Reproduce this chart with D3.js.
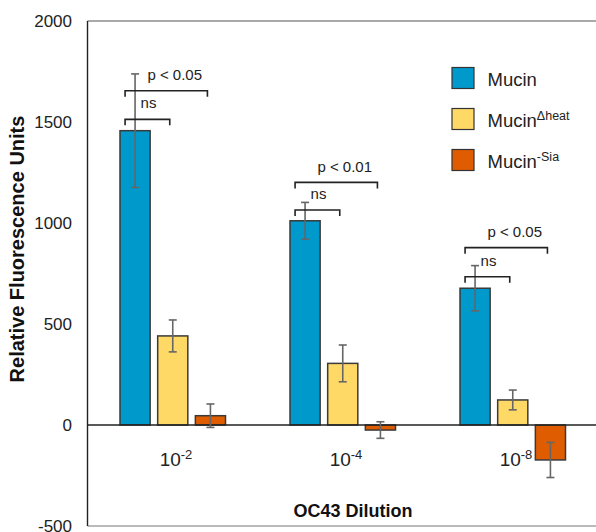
<!DOCTYPE html>
<html><head><meta charset="utf-8">
<script src="https://cdn.jsdelivr.net/npm/d3@7"></script>
<style>
html,body{margin:0;padding:0;background:#fff;}
text{font-family:Arial,"Liberation Sans",sans-serif;}
</style></head>
<body><svg id="chart" width="596" height="532"></svg>
<script>
// ---- data ----
const groups = ["10-2", "10-4", "10-8"];
const groupBase = ["10", "10", "10"];
const groupExp = ["-2", "-4", "-8"];
const series = ["Mucin", "MucinHeat", "MucinSia"];
const seriesBase = ["Mucin", "Mucin", "Mucin"];
const seriesSup = ["", "\u0394heat", "-Sia"];
const mucin      = [1457, 1011, 677];
const mucinHeat  = [441, 305, 124];
const mucinSia   = [46, -25, -173];
const errMucin   = [281, 91, 112];
const errHeat    = [79, 91, 49];
const errSia     = [58, 41, 87];
const yTicks = [-500, 0, 500, 1000, 1500, 2000];
// significance brackets: [group, target series index, level, label]
const bracketGroup  = [0, 0, 1, 1, 2, 2];
const bracketTarget = [1, 2, 1, 2, 1, 2];
const bracketLevel  = [1513, 1655, 1064, 1201, 734, 878];
const bracketLabel  = ["ns", "p < 0.05", "ns", "p < 0.01", "ns", "p < 0.05"];

const colors = ["#0099CC", "#FFD966", "#E05C00"];
const values = [mucin, mucinHeat, mucinSia];
const errs = [errMucin, errHeat, errSia];

const svg = d3.select("#chart");
const y = d3.scaleLinear().domain([-500, 2000]).range([526, 21]);
const x0 = d3.scaleBand().domain(groups).range([88, 598]).padding(0);
const x1 = d3.scaleBand().domain(series).range([32, 137.5]).paddingInner(0.2).paddingOuter(0);

// frame lines
svg.append("line").attr("x1", 87.5).attr("x2", 596).attr("y1", y(2000)).attr("y2", y(2000))
  .attr("stroke", "#555").attr("stroke-width", 1.2);
svg.append("line").attr("x1", 87.5).attr("x2", 596).attr("y1", y(-500)).attr("y2", y(-500))
  .attr("stroke", "#777").attr("stroke-width", 1.2);

// y axis labels
svg.append("g").selectAll("text").data(yTicks).join("text")
  .attr("x", 72).attr("y", d => y(d)).attr("dy", "0.36em")
  .attr("text-anchor", "end").attr("font-size", 17).attr("fill", "#222")
  .text(d => d);

// bars
const data = [];
groups.forEach((g, gi) => series.forEach((s, si) => data.push({g, gi, s, si, v: values[si][gi], e: errs[si][gi]})));

svg.append("g").selectAll("rect").data(data).join("rect")
  .attr("x", d => x0(d.g) + x1(d.s))
  .attr("y", d => y(Math.max(0, d.v)))
  .attr("width", x1.bandwidth())
  .attr("height", d => Math.abs(y(d.v) - y(0)))
  .attr("fill", d => colors[d.si])
  .attr("stroke", "#3a3a3a").attr("stroke-width", 1.5);

// zero line
svg.append("line").attr("x1", 88).attr("x2", 596).attr("y1", y(0)).attr("y2", y(0))
  .attr("stroke", "#222").attr("stroke-width", 1.3);
// left axis line
svg.append("line").attr("x1", 87.5).attr("x2", 87.5).attr("y1", y(2000)).attr("y2", y(-500))
  .attr("stroke", "#222").attr("stroke-width", 1.4);

// error bars
const eg = svg.append("g").attr("stroke", "#666").attr("stroke-width", 1.6);
data.forEach(d => {
  const cx = x0(d.g) + x1(d.s) + x1.bandwidth() / 2;
  eg.append("line").attr("x1", cx).attr("x2", cx).attr("y1", y(d.v + d.e)).attr("y2", y(d.v - d.e));
  [d.v + d.e, d.v - d.e].forEach(v => eg.append("line")
    .attr("x1", cx - 4).attr("x2", cx + 4).attr("y1", y(v)).attr("y2", y(v)));
});

// significance brackets
const bg = svg.append("g");
bracketLevel.forEach((lv, i) => {
  const g = groups[bracketGroup[i]];
  const blueC = x0(g) + x1(series[0]) + x1.bandwidth() / 2;
  const tgtC = x0(g) + x1(series[bracketTarget[i]]) + x1.bandwidth() / 2;
  const xl = blueC - 10, xr = tgtC - 3, yy = y(lv);
  bg.append("path")
    .attr("d", `M${xl},${yy + 6}V${yy}H${xr}V${yy + 6}`)
    .attr("fill", "none").attr("stroke", "#222").attr("stroke-width", 1.6);
  const isNs = bracketLabel[i] === "ns";
  bg.append("text")
    .attr("x", isNs ? blueC + 5.5 : (xl + xr) / 2 + 8.5)
    .attr("y", yy - (isNs ? 11 : 10.5))
    .attr("text-anchor", isNs ? "start" : "middle")
    .attr("font-size", 15).attr("fill", "#222")
    .text(bracketLabel[i]);
});

// x tick labels
groups.forEach((g, i) => {
  const t = svg.append("text")
    .attr("x", x0(g) + x0.bandwidth() / 2 + 3).attr("y", 466)
    .attr("text-anchor", "middle").attr("font-size", 19).attr("fill", "#222");
  t.append("tspan").text(groupBase[i]);
  t.append("tspan").attr("font-size", 13).attr("dy", -7).text(groupExp[i]);
});

// axis titles
svg.append("text").attr("x", 353).attr("y", 517).attr("text-anchor", "middle")
  .attr("font-size", 18).attr("font-weight", "bold").attr("fill", "#111").text("OC43 Dilution");
svg.append("text").attr("transform", "translate(17,249) rotate(-90)")
  .attr("text-anchor", "middle").attr("dominant-baseline", "central")
  .attr("font-size", 20).attr("font-weight", "bold").attr("fill", "#111")
  .text("Relative Fluorescence Units");

// legend
const lg = svg.append("g");
series.forEach((s, i) => {
  const ly = 67.5 + i * 41;
  lg.append("rect").attr("x", 452).attr("y", ly).attr("width", 22).attr("height", 21)
    .attr("fill", colors[i]).attr("stroke", "#333").attr("stroke-width", 1.2);
  const t = lg.append("text").attr("x", 487.5).attr("y", ly + 18.5)
    .attr("font-size", 18.5).attr("fill", "#222");
  t.append("tspan").text(seriesBase[i]);
  if (seriesSup[i]) t.append("tspan").attr("font-size", 12.5).attr("dy", -7.5).text(seriesSup[i]);
});
</script></body></html>
